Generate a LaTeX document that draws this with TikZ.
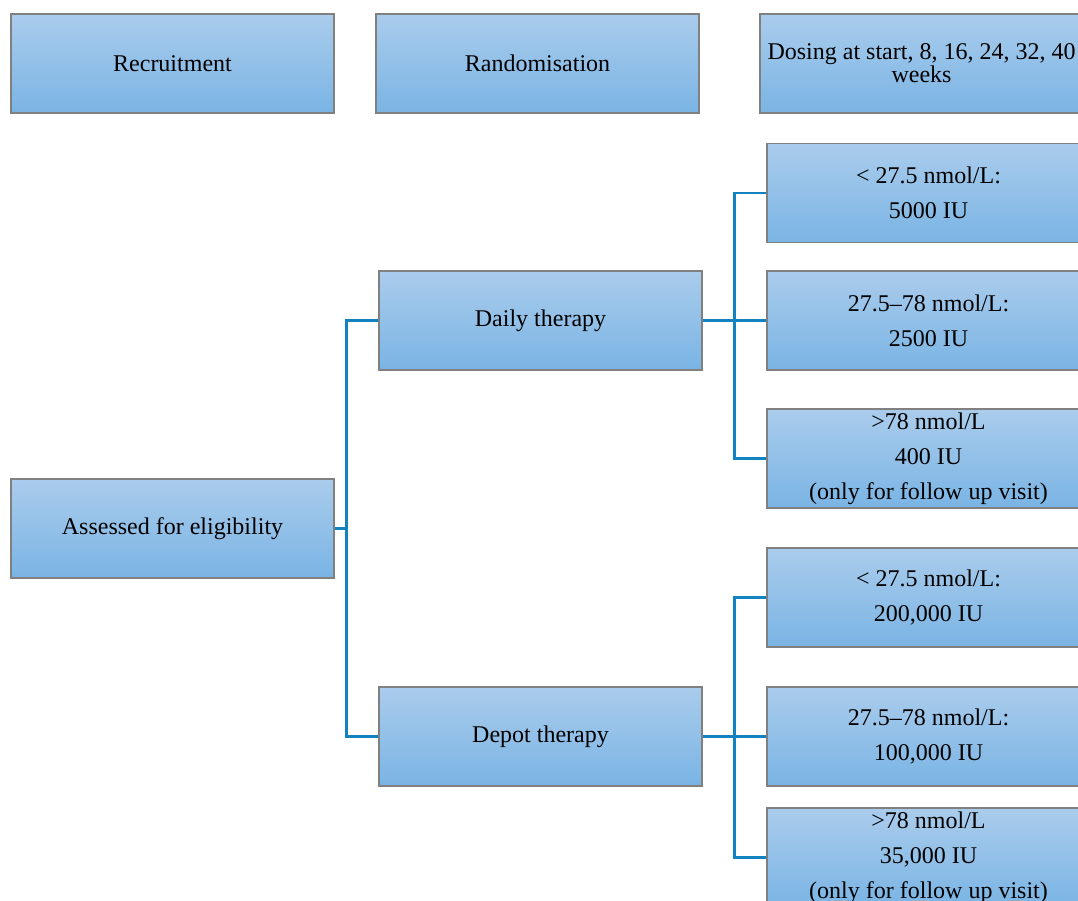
\documentclass[tikz,border=0pt]{standalone}
\usepackage{fontspec}
\setmainfont{Liberation Serif}
\usepackage{tikz}

\definecolor{boxtop}{RGB}{170,204,236}
\definecolor{boxbot}{RGB}{122,180,228}
\definecolor{boxline}{RGB}{128,128,128}
\definecolor{linkblue}{RGB}{18,130,192}

\tikzset{
	box/.style={draw=boxline, line width=1.2pt, top color=boxtop, bottom color=boxbot,
		minimum width=323pt, minimum height=99pt, inner sep=2pt, align=center,
		font=\fontsize{24}{35}\selectfont},
	link/.style={draw=linkblue, line width=2.4pt}
}

\begin{document}
\begin{tikzpicture}[x=1pt, y=-1pt]
	\clip (0,0) rectangle (1078,901);
	% header
	\node[box] (recruit) at (172.5, 63.5) {Recruitment};
	\node[box] (random) at (537.5, 63.5) {Randomisation};
	\node[box, font=\fontsize{24}{23}\selectfont] (dosing) at (921.5, 63.5) {Dosing at start, 8, 16, 24, 32, 40\\weeks};
	% arms
	\node[box] (assess) at (172.5, 528.5) {Assessed for eligibility};
	\node[box] (daily) at (540.5, 320.5) {Daily therapy};
	\node[box] (depot) at (540.5, 736.5) {Depot therapy};
	% doses daily
	\node[box] (dA) at (928.5, 193) {< 27.5 nmol/L:\\5000 IU};
	\node[box] (dB) at (928.5, 320.5) {27.5–78 nmol/L:\\2500 IU};
	\node[box] (dC) at (928.5, 458.5) {>78 nmol/L\\400 IU\\(only for follow up visit)};
	% doses depot
	\node[box] (pA) at (928.5, 597.5) {< 27.5 nmol/L:\\200,000 IU};
	\node[box] (pB) at (928.5, 736.5) {27.5–78 nmol/L:\\100,000 IU};
	\node[box] (pC) at (928.5, 857.5) {>78 nmol/L\\35,000 IU\\(only for follow up visit)};
	% connectors
	\draw[link] (daily.west) -- ++(-32,0) |- (depot.west);
	\draw[link] (assess.east) -- ++(13,0);
	\draw[link] (dA.west) -- ++(-32,0) |- (dC.west);
	\draw[link] (daily.east) -- (dB.west);
	\draw[link] (pA.west) -- ++(-32,0) |- (pC.west);
	\draw[link] (depot.east) -- (pB.west);
\end{tikzpicture}
\end{document}
